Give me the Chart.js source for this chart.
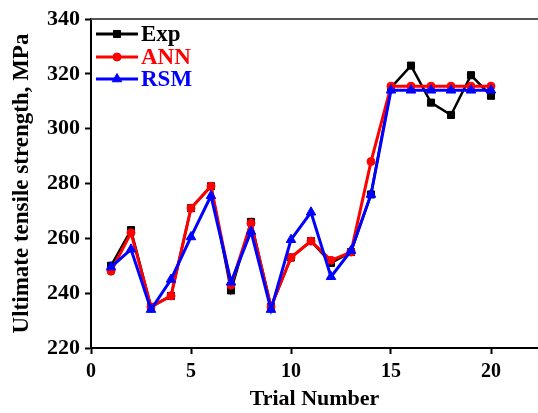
<!DOCTYPE html>
<html><head><meta charset="utf-8">
<script src="https://cdn.jsdelivr.net/npm/chart.js@4/dist/chart.umd.min.js"></script>
<style>html,body{margin:0;padding:0;background:#fff;overflow:hidden}#wrap{width:538px;height:413px}canvas{display:block}</style>
</head><body><div id="wrap"><canvas id="c" width="538" height="413"></canvas></div>
<script>
const trials = [1,2,3,4,5,6,7,8,9,10,11,12,13,14,15,16,17,18,19,20];
const expVals = [250,263,235,239,271,279,241,266,235,253,259,251,255,276,315,323,309.5,305,319.5,312];
const annVals = [248,262,235,239,271,279,243,265.5,235,253,259,252,255,288,315.5,315.5,315.5,315.5,315.5,315.5];
const rsmVals = [249.5,256,234,245,260.5,275.5,244,262.5,234,259.5,269.5,246,255.5,276,314,314,314,314,314,314];
const seriesNames = ['Exp','ANN','RSM'];
const seriesColors = ['#000000','#ff0000','#0000ff'];
const yTicks = [220,240,260,280,300,320,340];
const xTicks = [0,5,10,15,20];

const FONT = "'Liberation Serif','Times New Roman',serif";
const mk = (vals) => vals.map((v,i)=>({x:trials[i], y:v}));

const legendPlugin = {
  id:'customLegend',
  afterDraw(chart){
    const ctx = chart.ctx;
    const area = chart.chartArea;
    ctx.save();
    ctx.strokeStyle = '#555555';
    ctx.lineWidth = 2;
    ctx.beginPath();
    ctx.moveTo(area.left, area.top);
    ctx.lineTo(chart.width, area.top);
    ctx.stroke();
    const rows = [34,57,79];
    chart.data.datasets.forEach((ds, i) => {
      const y = rows[i];
      ctx.strokeStyle = ds.borderColor;
      ctx.fillStyle = ds.borderColor;
      ctx.lineWidth = 3;
      ctx.beginPath();
      ctx.moveTo(96, y); ctx.lineTo(138, y);
      ctx.stroke();
      ctx.lineWidth = 1;
      Chart.helpers.drawPoint(ctx, {pointStyle: ds.pointStyle, rotation:0, radius: ds.pointRadius, borderWidth:1}, 117, y);
      ctx.font = "bold 23px " + FONT;
      ctx.textBaseline = 'middle';
      ctx.textAlign = 'left';
      ctx.fillText(ds.label, 141, y+1);
    });
    ctx.restore();
  }
};

new Chart(document.getElementById('c'), {
  type:'line',
  data:{
    datasets:[
      {label:seriesNames[0], data:mk(expVals), borderColor:seriesColors[0], backgroundColor:seriesColors[0], borderWidth:2.5, pointStyle:'rect', pointRadius:5, pointBorderWidth:1, order:3},
      {label:seriesNames[1], data:mk(annVals), borderColor:seriesColors[1], backgroundColor:seriesColors[1], borderWidth:3, pointStyle:'circle', pointRadius:4, pointBorderWidth:1, order:2},
      {label:seriesNames[2], data:mk(rsmVals), borderColor:seriesColors[2], backgroundColor:seriesColors[2], borderWidth:3, pointStyle:'triangle', pointRadius:5.5, pointBorderWidth:1, order:1}
    ]
  },
  options:{
    responsive:false,
    animation:false,
    devicePixelRatio:1,
    layout:{autoPadding:false, padding:{top:19,right:0,left:0,bottom:0}},
    plugins:{legend:{display:false}, tooltip:{enabled:false}},
    elements:{line:{tension:0}},
    scales:{
      x:{
        type:'linear', min:0, max:22.35,
        afterFit:(s)=>{s.height=65; s.paddingRight=0; s.paddingLeft=0;},
        afterBuildTicks:(s)=>{s.ticks = xTicks.map(v=>({value:v}));},
        grid:{display:true, drawOnChartArea:false, drawTicks:true, tickLength:6, tickColor:'#000', tickWidth:2},
        border:{color:'#000', width:2},
        ticks:{color:'#000', font:{family:FONT, size:20, weight:'bold'}, padding:6, maxRotation:0},
        title:{display:true, text:'Trial Number', color:'#000', font:{family:FONT, size:22, weight:'bold'}, padding:{top:0,bottom:0}}
      },
      y:{
        type:'linear', min:220, max:340,
        afterFit:(s)=>{s.width=91; s.paddingTop=0; s.paddingBottom=0;},
        afterBuildTicks:(s)=>{s.ticks = yTicks.map(v=>({value:v}));},
        grid:{display:true, drawOnChartArea:false, drawTicks:true, tickLength:6, tickColor:'#000', tickWidth:2},
        border:{color:'#000', width:2},
        ticks:{color:'#000', font:{family:FONT, size:22, weight:'bold'}, padding:5},
        title:{display:true, text:'Ultimate tensile strength, MPa', color:'#000', font:{family:FONT, size:23, weight:'bold'}, padding:{top:8,bottom:0}}
      }
    }
  },
  plugins:[legendPlugin]
});
</script>
</body></html>
